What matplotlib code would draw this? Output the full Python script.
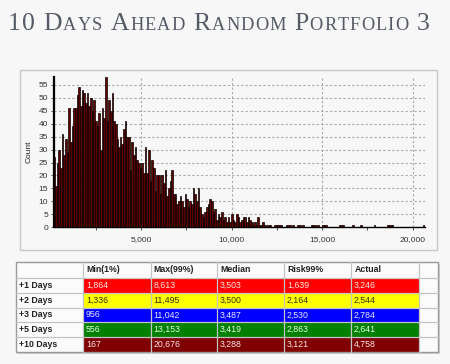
import numpy as np
import matplotlib
matplotlib.use("Agg")
import matplotlib.pyplot as plt
from matplotlib.patches import Rectangle
from matplotlib.ticker import FuncFormatter, MultipleLocator

title = "10 Days Ahead Random Portfolio 3"

# histogram bin counts, bins span min..max of the +10 days run
x_min, x_max = 167, 20676
counts_head = [
    27, 16, 25, 30, 23, 36, 28, 34, 29, 46,
    33, 39, 46, 46, 51, 54, 47, 53, 52, 48,
    52, 47, 50, 45, 49, 41, 39, 44, 30, 46,
    42, 58, 41, 49, 45, 52, 41, 40, 34, 31,
    35, 32, 38, 41, 35, 35, 22, 33, 28, 31,
    26, 25, 23, 25, 21, 31, 21, 30, 18, 26,
    23, 14, 20, 20, 13, 20, 17, 22, 12, 15,
    18, 22, 13, 13, 9, 10, 12, 10, 8, 13,
    11, 8, 10, 9, 15, 13, 10, 15, 8, 5,
    4, 6, 8, 9, 11, 10, 6, 7, 3, 5,
    4, 6, 3, 4, 2, 4, 2, 5, 3, 2,
    5,
]
counts_tail = [
    4, 2, 3, 4, 4, 2, 4, 3, 2, 1,
    2, 1, 4, 1, 1, 2, 1, 0, 1, 1,
    0, 0, 1, 1, 1, 1, 1, 0, 0, 1,
    1, 1, 0, 1, 0, 0, 1, 1, 0, 1,
    0, 0, 0, 0, 1, 1, 1, 0, 1, 0,
    0, 1, 1, 1, 0, 0, 0, 0, 0, 0,
    0, 1, 1, 1, 0, 0, 0, 0, 0, 1,
    0, 0, 0, 0, 1, 0, 0, 0, 0, 0,
    0, 0, 1, 0, 0, 0, 0, 0, 0, 0,
    1, 1, 1, 1, 0, 0, 0, 0, 0, 0,
    0, 0, 0, 0, 0, 0, 0, 0, 0, 0,
    0, 0, 1,
]
counts = counts_head + counts_tail

row_labels = ["+1 Days", "+2 Days", "+3 Days", "+5 Days", "+10 Days"]
col_labels = ["Min(1%)", "Max(99%)", "Median", "Risk99%", "Actual"]
min_vals = [1864, 1336, 956, 556, 167]
max_vals = [8613, 11495, 11042, 13153, 20676]
median_vals = [3503, 3500, 3487, 3419, 3288]
risk_vals = [1639, 2164, 2530, 2863, 3121]
actual_vals = [3246, 2544, 2784, 2641, 4758]
row_colors = ["#ff0000", "#ffff00", "#0000ff", "#008000", "#800000"]
text_colors = ["#ffe8e8", "#333300", "#e8e8ff", "#e8ffe8", "#ffe8e8"]

bg = "#f7f7f7"
W, H = 450, 364
fig = plt.figure(figsize=(W / 100, H / 100), dpi=100, facecolor=bg)

# overlay in pixel coordinates for title, panel frame and table
ov = fig.add_axes([0, 0, 1, 1], zorder=0)
ov.set_xlim(0, W)
ov.set_ylim(H, 0)
ov.axis("off")
ov.patch.set_visible(False)

# title in small caps, drawn letter by letter with a bit of tracking
renderer = fig.canvas.get_renderer()
big, small = 18.5, 13.2
tx, ty = 8, 30
track = 1.05
for word in title.split(" "):
    for i, ch in enumerate(word):
        size = big if (i == 0 or ch.isdigit()) else small
        t = ov.text(tx, ty, ch.upper(), fontsize=size, family="Liberation Serif",
                    color="#545a66", va="baseline", ha="left")
        tx += t.get_window_extent(renderer=renderer).width + track
    tx += big * 100 / 72 * 0.3

# chart panel frame
ov.add_patch(Rectangle((20, 70), 417, 180, fill=False, edgecolor="#c8c8c8", lw=1))

# histogram
ax = fig.add_axes([53.5 / W, (H - 227.3) / H, (425 - 53.5) / W, (227.3 - 77) / H], zorder=2)
ax.set_facecolor(bg)
edges = np.linspace(x_min, x_max, len(counts) + 1)
ax.bar(edges[:-1], counts, width=np.diff(edges), align="edge",
       color="#5e0000", edgecolor="#0a0000", linewidth=0.5, zorder=3)
ax.set_xlim(x_min, x_max)
ax.set_ylim(0, max(counts))
ax.xaxis.set_major_locator(MultipleLocator(5000))
ax.xaxis.set_minor_locator(MultipleLocator(2500))
ax.yaxis.set_major_locator(MultipleLocator(5))
ax.xaxis.set_major_formatter(FuncFormatter(lambda v, p: f"{int(v):,}"))
ax.grid(True, which="major", color="#a8a8a8", linestyle=(0, (2, 2)), linewidth=0.8, zorder=0)
ax.set_axisbelow(True)
for s in ["top", "right"]:
    ax.spines[s].set_visible(False)
ax.spines["left"].set_linewidth(1.6)
ax.spines["bottom"].set_linewidth(1.0)
ax.tick_params(axis="both", labelsize=6, colors="#333333", length=2, width=0.6, pad=2,
               labelfontfamily="Liberation Sans")
ax.tick_params(axis="x", which="minor", length=2, width=0.6, color="#333333")
ax.tick_params(axis="x", pad=4)
ax.set_ylabel("Count", fontsize=6, family="Liberation Sans", color="#222222", labelpad=4)

# table
col_x = [15.7, 83.3, 150.7, 217.3, 284.3, 351.3, 418.7, 438.3]
row_y = [262.3, 277.7, 292.7, 307.5, 322.3, 337.3, 352.3]
ov.add_patch(Rectangle((col_x[0] + 1.5, row_y[0] + 1.5), col_x[-1] - col_x[0], row_y[-1] - row_y[0],
                       facecolor="#d0d0d0", edgecolor="none"))
ov.add_patch(Rectangle((col_x[0], row_y[0]), col_x[-1] - col_x[0], row_y[-1] - row_y[0],
                       facecolor="#fbfbfb", edgecolor="none"))
columns = [min_vals, max_vals, median_vals, risk_vals, actual_vals]
fs = 6.3
for r, lab in enumerate(row_labels):
    y0, y1 = row_y[r + 1], row_y[r + 2]
    ov.add_patch(Rectangle((col_x[1], y0), col_x[6] - col_x[1], y1 - y0,
                           facecolor=row_colors[r], edgecolor="none"))
    ov.text(col_x[0] + 3, (y0 + y1) / 2, lab, fontsize=fs, fontweight="bold",
            family="Liberation Sans", color="#222222", va="center", ha="left")
    for c, vals in enumerate(columns):
        ov.text(col_x[c + 1] + 2.5, (y0 + y1) / 2, f"{vals[r]:,}", fontsize=fs,
                family="Liberation Sans", color=text_colors[r], va="center", ha="left")
for c, lab in enumerate(col_labels):
    ov.text(col_x[c + 1] + 3, (row_y[0] + row_y[1]) / 2, lab, fontsize=fs, fontweight="bold",
            family="Liberation Sans", color="#222222", va="center", ha="left")
for x in col_x[1:-1]:
    ov.plot([x, x], [row_y[0], row_y[-1]], color="#c4c4c4", lw=0.9)
for y in row_y[1:-1]:
    ov.plot([col_x[0], col_x[-1]], [y, y], color="#c4c4c4", lw=0.9)
ov.add_patch(Rectangle((col_x[0], row_y[0]), col_x[-1] - col_x[0], row_y[-1] - row_y[0],
                       fill=False, edgecolor="#9a9a9a", lw=1))

fig.savefig("out.png", dpi=100, facecolor=bg)
